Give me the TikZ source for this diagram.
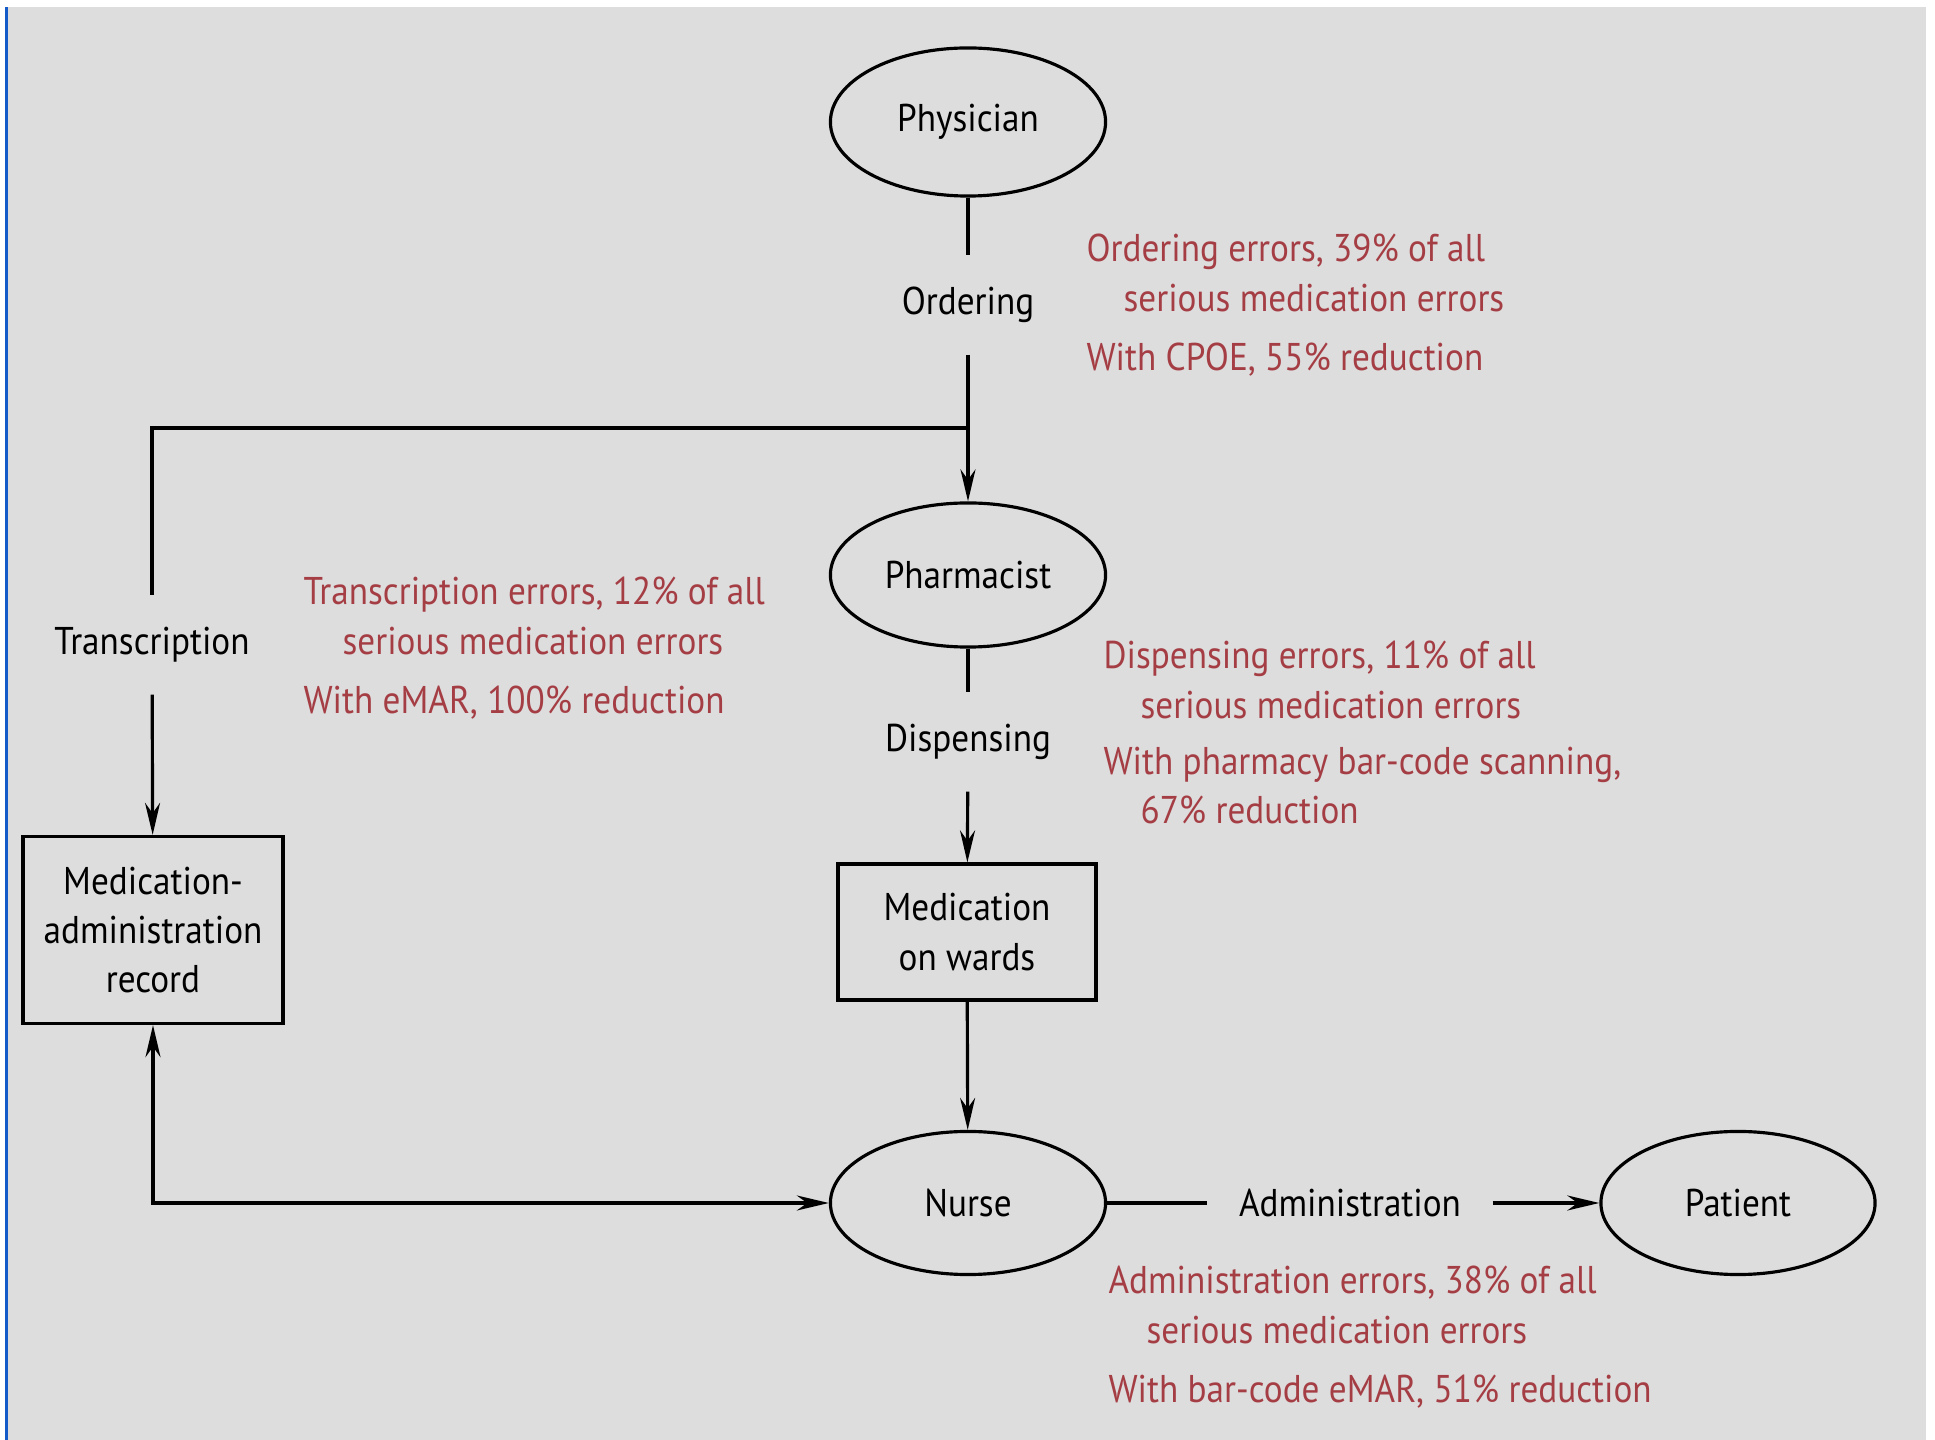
\documentclass[tikz,border=0pt]{standalone}
\usepackage{fontspec}
\setmainfont[FakeStretch=0.91]{PT Sans}
\usepackage{xcolor}
\usetikzlibrary{shapes.geometric,positioning,arrows.meta}
\definecolor{errred}{RGB}{165,62,68}
\definecolor{bggray}{RGB}{221,221,221}
\definecolor{edgeblue}{RGB}{20,90,200}
\tikzset{ell/.style={ellipse,draw,line width=0.9pt,inner sep=0pt,font=\fontsize{11}{14}\selectfont},
  rec/.style={rectangle,draw,line width=0.9pt,align=center,inner sep=0pt,font=\fontsize{11}{14}\selectfont},
  lab/.style={font=\fontsize{11}{14}\selectfont,inner xsep=3mm,inner ysep=2.7mm,minimum height=9.6mm},
  err/.style={errred,align=left,anchor=base west,inner sep=0pt,font=\fontsize{11}{14.2}\selectfont}}

\begin{document}
\begin{tikzpicture}[x=0.01cm,y=-0.01cm,>={Stealth[length=3.2mm,width=1.5mm]},line width=0.9pt]
        \useasboundingbox (0,0) rectangle (1935,1440);
        \fill[bggray] (7,7) rectangle (1926,1440);
        \fill[edgeblue] (5,7) rectangle (8,1440);

        \node[ell,minimum width=27.5mm,minimum height=14.8mm] (phy)at (968,122) {Physician};
        \node[lab] (ord)at (968,305) {Ordering};
        \node[ell,minimum width=27.5mm,minimum height=14.4mm] (pha)at (968,575) {Pharmacist};
        \node[lab] (dis)at (968,742) {Dispensing};
        \node[rec,minimum width=25.8mm,minimum height=13.6mm] (mow)at (967,932) {Medication\\on wards};
        \node[ell,minimum width=27.5mm,minimum height=14.3mm] (nur)at (968,1203) {Nurse};
        \node[lab] (adm)at (1350,1203) {Administration};
        \node[ell,minimum width=27.4mm,minimum height=14.3mm] (pat)at (1738,1203) {Patient};
        \node[lab] (tra)at (152,645) {Transcription};
        \node[rec,minimum width=26mm,minimum height=18.7mm] (mar)at (153,930) {Medication-\\administration\\record};
        \coordinate (split)at (968,428);

        % red notes: anchor is the baseline of the last line
        \node[err] (ordnote)at (1085,371) {Ordering errors, 39\% of all\\\hspace*{3.7mm}serious medication errors\\[1mm]With CPOE, 55\% reduction};
        \node[err] (tranote)at (302,714) {Transcription errors, 12\% of all\\\hspace*{3.9mm}serious medication errors\\[1mm]With eMAR, 100\% reduction};
        \node[err] (disnote)at (1102,824) {Dispensing errors, 11\% of all\\\hspace*{3.7mm}serious medication errors\\[0.6mm]With pharmacy bar-code scanning,\\\hspace*{3.7mm}67\% reduction};
        \node[err] (admnote)at (1107,1403) {Administration errors, 38\% of all\\\hspace*{3.8mm}serious medication errors\\[1mm]With bar-code eMAR, 51\% reduction};

        \draw [] (phy) to [] (ord);
        \draw [->] (ord) to [] (pha);
        \draw [] (split) -| (tra);
        \draw [->] (tra) to [] (mar);
        \draw [] (pha) to [] (dis);
        \draw [->] (dis) to [] (mow);
        \draw [->] (mow) to [] (nur);
        \draw [<->] (mar) |- (nur);
        \draw [] (nur) to [] (adm);
        \draw [->] (adm) to [] (pat);
    \end{tikzpicture}
\end{document}
